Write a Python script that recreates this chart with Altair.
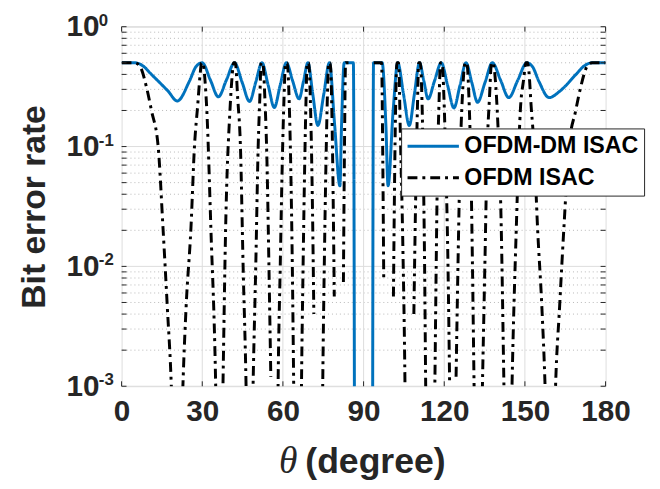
import altair as alt
import pandas as pd

# ---------------- data ----------------
series_names = ["OFDM-DM ISAC", "OFDM ISAC"]

# OFDM-DM ISAC (blue, solid)
dm_theta = [0, 5, 8, 11.1, 17.3, 20.7, 25.2, 27.7, 30.0, 33.0, 36.0, 39.0, 42.0,
            44.8, 47.6, 49.9, 52.2, 54.5, 56.8, 59.0, 61.3, 63.6, 66.0, 67.7, 69.3,
            71.1, 73.0, 75.2, 77.3, 79.2, 81.2, 81.8, 82.8, 86.2, 86.8,
            93.2, 93.7, 96.9, 98.3, 99.1, 101.0, 102.7, 104.85, 107.0, 108.9, 110.8,
            112.4, 114.0, 116.4, 118.9, 121.25, 123.6, 125.85, 128.1, 130.25, 132.4,
            135.15, 137.9, 140.95, 144.0, 147.35, 150.7, 152.8, 155.2, 159.0, 163.0,
            169.0, 172.0, 175.0, 180]
dm_ber = [0.5, 0.5, 0.47, 0.4, 0.29, 0.24, 0.35, 0.465, 0.5, 0.36, 0.26, 0.36, 0.5,
          0.345, 0.238, 0.345, 0.5, 0.326, 0.212, 0.326, 0.5, 0.354, 0.25, 0.354, 0.5,
          0.274, 0.15, 0.274, 0.5, 0.155, 0.047, 0.15, 0.5, 0.5, 1e-6,
          1e-6, 0.5, 0.5, 0.15, 0.047, 0.2, 0.5, 0.274, 0.15, 0.274, 0.5,
          0.354, 0.25, 0.354, 0.5, 0.324, 0.21, 0.324, 0.5, 0.342, 0.234,
          0.342, 0.5, 0.358, 0.256, 0.358, 0.5, 0.465, 0.35, 0.256, 0.29,
          0.4, 0.47, 0.5, 0.5]
dm_seg = [1] * 35 + [2] * 35

# OFDM ISAC (black, dash-dot); segments break where the curve hits zero
of_theta = [0, 5, 7, 9.3, 11.1, 13.6, 15.4, 17.0, 18.5, 20.7, 22.8, 24.0, 25.8, 27.1,
            28.3, 29.3, 29.7, 30.3, 31.0, 31.7, 33.2, 35.0, 36.35, 37.7, 38.7, 40.3,
            41.0, 41.7, 42.3, 43.2, 44.2, 45.2, 46.3, 47.6, 48.9, 49.9, 50.8, 51.4,
            51.9, 52.5, 53.3, 54.1, 54.8, 55.5,
            57.9, 58.2, 59.0, 59.8, 60.4, 61.0, 61.6, 62.3, 62.9, 63.5, 64.0,
            66.6, 66.9, 67.5, 68.1, 68.6, 69.0, 69.6, 70.3, 71.0, 71.5,
            74.5, 74.8, 75.5, 76.2, 76.7, 77.0, 77.6, 78.3, 79.1,
            82.5, 82.9, 83.3, 86.2,
            93.8, 96.7, 97.1, 97.5,
            101.1, 101.8, 102.4, 103.0, 103.7, 104.6, 105.4, 105.7,
            108.7, 109.3, 110.0, 110.5, 111.1, 111.7, 112.2, 112.7, 113.1, 114.8,
            116.5, 117.0, 117.5, 118.1, 118.6, 119.2, 119.9, 120.6, 121.4, 122.0,
            124.4, 125.1, 125.9, 126.7, 127.8, 128.4, 129.2, 129.9, 130.5, 131.1,
            132.65, 134.2, 135.1, 136.0, 136.8, 137.6, 138.2, 139.0, 139.7, 141.2,
            142.2, 143.7, 145.2, 146.8, 148.3, 149.5, 150.4, 151.0, 151.5, 152.3,
            153.4, 154.7, 156.3, 157.5, 159.5, 161.4, 162.9, 164.5, 166.4, 168.9,
            170.7, 173.0, 175.0, 180]
of_ber = [0.5, 0.5, 0.46, 0.31, 0.2, 0.1, 0.021, 0.0046, 0.001, 1e-5, 0.001, 0.0046, 0.021, 0.1,
          0.22, 0.42, 0.5, 0.5, 0.36, 0.2, 0.021, 0.001, 1e-5, 0.001, 0.021, 0.2,
          0.36, 0.5, 0.5, 0.25, 0.1, 0.01, 0.001, 1e-5, 0.001, 0.01, 0.1, 0.25,
          0.5, 0.5, 0.25, 0.07, 0.01, 0.0012,
          2e-4, 0.001, 0.01, 0.08, 0.25, 0.5, 0.5, 0.25, 0.07, 0.01, 0.00105,
          2e-4, 0.001, 0.01, 0.07, 0.25, 0.5, 0.5, 0.2, 0.03, 0.004,
          2e-4, 0.001, 0.015, 0.12, 0.35, 0.5, 0.5, 0.15, 0.0056,
          0.0074, 0.1, 0.5, 0.5,
          0.5, 0.5, 0.1, 0.0076,
          0.0056, 0.15, 0.5, 0.5, 0.12, 0.015, 0.001, 2e-4,
          0.004, 0.03, 0.2, 0.5, 0.5, 0.25, 0.07, 0.01, 0.001, 1e-5,
          0.001, 0.01, 0.07, 0.25, 0.5, 0.5, 0.25, 0.07, 0.01, 0.00105,
          0.0012, 0.01, 0.08, 0.25, 0.5, 0.5, 0.25, 0.07, 0.01, 0.001,
          1e-5, 0.001, 0.01, 0.1, 0.25, 0.5, 0.5, 0.36, 0.2, 0.021,
          0.001, 1e-5, 0.001, 0.021, 0.2, 0.36, 0.5, 0.5, 0.42, 0.22,
          0.1, 0.021, 0.0046, 0.001, 1e-5, 0.001, 0.0046, 0.021, 0.1, 0.2,
          0.31, 0.46, 0.5, 0.5]
of_seg = ([1] * 44 + [2] * 11 + [3] * 10 + [4] * 9 + [5] * 4 + [6] * 4 +
          [7] * 8 + [8] * 20 + [9] * 44)

x_ticks = [0, 30, 60, 90, 120, 150, 180]
y_major = [0.001, 0.01, 0.1, 1.0]
y_exp = ["-3", "-2", "-1", "0"]
y_minor = [m * d for d in [0.001, 0.01, 0.1] for m in range(2, 10)]

# ---------------- tables ----------------
lines_df = pd.concat([
    pd.DataFrame({"theta": dm_theta, "ber": dm_ber, "seg": dm_seg, "series": series_names[0]}),
    pd.DataFrame({"theta": of_theta, "ber": of_ber, "seg": of_seg, "series": series_names[1]}),
], ignore_index=True)
xt_df = pd.DataFrame({"theta": x_ticks})
xg_df = pd.DataFrame({"theta": x_ticks[1:-1]})
ymaj_df = pd.DataFrame({"ber": y_major, "e": y_exp})
ymin_df = pd.DataFrame({"ber": y_minor})
yt_all = pd.DataFrame({"ber": y_major + y_minor})

W, H = 490, 364
FONT = "Liberation Sans"
TXT = "#262626"
xs = alt.Scale(domain=[0, 180], nice=False, zero=False)
ys = alt.Scale(type="log", domain=[0.001, 1], nice=False)

x_axis = alt.Axis(values=x_ticks, ticks=False, domain=False, grid=False, labelFont=FONT,
                  labelFontWeight="bold", labelFontSize=30, labelColor=TXT, labelPadding=11,
                  labelFlush=False, title=None)
y_axis = alt.Axis(values=y_major, labelExpr="'10'", ticks=False, domain=False, grid=False,
                  labelFont=FONT, labelFontWeight="bold", labelFontSize=30, labelColor=TXT,
                  labelPadding=23, labelFlush=False, labelBaseline="middle",
                  title="Bit error rate", titleFont=FONT, titleFontWeight="bold",
                  titleFontSize=34, titleColor=TXT, titleX=-78, titleY=182, titleAngle=-90,
                  titleAlign="center", titleBaseline="alphabetic")
X = alt.X("theta:Q", scale=xs, axis=x_axis)
Y = alt.Y("ber:Q", scale=ys, axis=y_axis)

legend = alt.Legend(title=None, orient="none", legendX=283, legendY=103,
                    fillColor="white", strokeColor="#262626", padding=5,
                    labelFont=FONT, labelFontWeight="bold", labelFontSize=23.5,
                    labelColor="black", symbolType="stroke", symbolSize=2704,
                    symbolStrokeWidth=3, rowPadding=6, labelOffset=4, labelLimit=400,
                    clipHeight=26, cornerRadius=0)
color = alt.Color("series:N", scale=alt.Scale(domain=series_names, range=["#0072BD", "#000000"]),
                  legend=legend)
dash = alt.StrokeDash("series:N", scale=alt.Scale(domain=series_names, range=[[1, 0], [10, 5, 3, 5]]),
                      legend=legend)

minor_grid = alt.Chart(ymin_df).mark_rule(color="#b8b8b8", strokeWidth=1, strokeDash=[1, 3]).encode(y=Y)
major_ygrid = alt.Chart(ymaj_df).mark_rule(color="#dcdcdc", strokeWidth=1).encode(y=Y)
major_xgrid = alt.Chart(xg_df).mark_rule(color="#dcdcdc", strokeWidth=1).encode(x=X)

line_dm = alt.Chart(lines_df).transform_filter(alt.datum.series == series_names[0]).mark_line(
    strokeWidth=3, clip=True, interpolate="monotone").encode(
    x=X, y=Y, color=color, strokeDash=dash, detail="seg:N", order="theta:Q")
line_of = alt.Chart(lines_df).transform_filter(alt.datum.series == series_names[1]).mark_line(
    strokeWidth=3, clip=True, interpolate="monotone").encode(
    x=X, y=Y, color=color, strokeDash=dash, detail="seg:N", order="theta:Q")

TL = 5
tick_col = "#262626"
ytick_l = alt.Chart(yt_all).mark_rule(color=tick_col, strokeWidth=1).encode(
    y=Y, x=alt.value(0), x2=alt.value(TL))
ytick_r = alt.Chart(yt_all).mark_rule(color=tick_col, strokeWidth=1).encode(
    y=Y, x=alt.value(W - TL), x2=alt.value(W))
xtick_b = alt.Chart(xt_df).mark_rule(color=tick_col, strokeWidth=1).encode(
    x=X, y=alt.value(H), y2=alt.value(H - TL))
xtick_t = alt.Chart(xt_df).mark_rule(color=tick_col, strokeWidth=1).encode(
    x=X, y=alt.value(0), y2=alt.value(TL))

exps = alt.Chart(ymaj_df).mark_text(align="left", baseline="alphabetic", dy=-1, font=FONT,
                                    fontWeight="bold", fontSize=17, color=TXT).encode(
    y=Y, x=alt.value(-23), text="e:N")

xt_theta = alt.Chart(xt_df.head(1)).mark_text(align="right", baseline="middle", font="Liberation Serif",
                                              fontStyle="italic", fontSize=38, color=TXT).encode(
    x=alt.value(178), y=alt.value(441), text=alt.value("θ"))
xt_deg = alt.Chart(xt_df.head(1)).mark_text(align="left", baseline="middle", font=FONT,
                                            fontWeight="bold", fontSize=36, color=TXT).encode(
    x=alt.value(186), y=alt.value(441), text=alt.value("(degree)"))

chart = alt.layer(
    minor_grid, major_ygrid, major_xgrid, line_dm, line_of,
    ytick_l, ytick_r, xtick_b, xtick_t, exps, xt_theta, xt_deg
).properties(
    width=W, height=H,
    autosize=alt.AutoSizeParams(type="none"),
    padding={"left": 115, "top": 16, "right": 47, "bottom": 93},
).configure_view(stroke="#262626", strokeWidth=1).configure(background="white")

chart.save("out.html", embed_options={"renderer": "svg", "actions": False})
